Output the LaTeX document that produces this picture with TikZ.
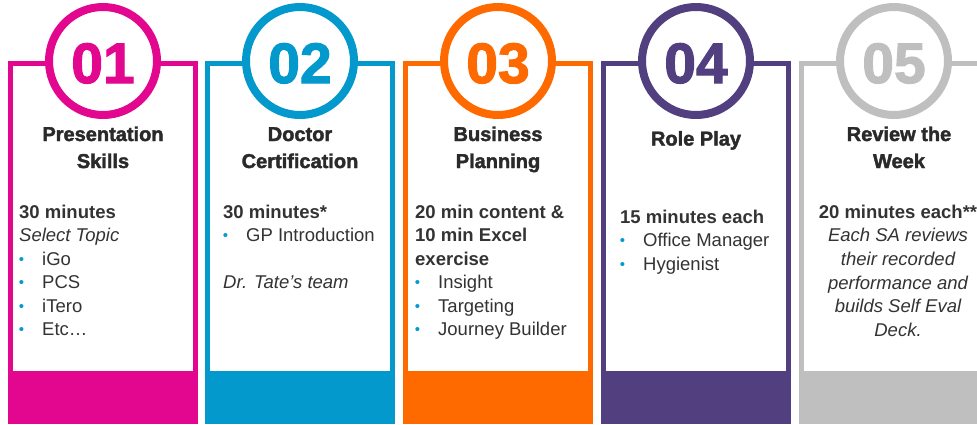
\documentclass[tikz,border=0pt]{standalone}
\usepackage{fontspec}
\setmainfont{Liberation Sans}
\newfontfamily\heavyfont{Liberation Sans}[BoldFeatures={FakeBold=2}]

\definecolor{cMag}{HTML}{E2078E}
\definecolor{cBlue}{HTML}{0399CD}
\definecolor{cOrange}{HTML}{FF6A00}
\definecolor{cPurple}{HTML}{523F80}
\definecolor{cGray}{HTML}{BFBFBF}
\definecolor{bul}{HTML}{0399D2}
\definecolor{ink}{HTML}{333333}
\definecolor{inkdark}{HTML}{2A2A2A}

% a top-aligned text block whose baseline is that of its first line
\newcommand\cardtext[2]{\vtop{\hsize=#1\relax\parindent=0pt\parskip=0pt\relax #2\par}}
% small blue bullet followed by the item indent
\newcommand\blt{\makebox[23pt][l]{\hspace{-0.3pt}\textcolor{bul}{\raisebox{0.6pt}{\fontsize{15}{15}\selectfont\textbullet}}}}

\tikzset{
  card/.style={draw=#1, line width=5pt, fill=white},
  ring/.style={circle, draw=#1, line width=8pt, fill=white, minimum size=108pt, inner sep=0pt},
  numtext/.style={text=#1, inner sep=0pt, anchor=base,
    font=\heavyfont\bfseries\fontsize{57}{57}\selectfont},
  title/.style={text=inkdark, inner sep=0pt, anchor=base,
    font=\heavyfont\bfseries\fontsize{20}{27}\selectfont},
  body/.style={text=ink, inner sep=0pt, anchor=base west,
    font=\fontsize{18.5}{23.5}\selectfont},
  bodyc/.style={text=ink, inner sep=0pt, anchor=base,
    font=\fontsize{18.5}{23.7}\selectfont},
}

\begin{document}
\begin{tikzpicture}[x=1pt, y=-1pt]
\useasboundingbox (0,0) rectangle (977,424);

% five cards: outline, coloured foot band, numbered ring
\foreach \i/\L/\c/\n in {1/8/cMag/01, 2/205/cBlue/02, 3/403/cOrange/03, 4/601/cPurple/04, 5/799/cGray/05} {
  \pgfmathsetmacro\cx{\L+95}
  \draw[card=\c] (\L+2.5,63.5) rectangle (\L+187.5,421.5);
  \fill[\c] (\L,371) rectangle (\L+190,424);
  \node[ring=\c] (ring\i) at (\cx,61) {};
  \node[numtext=\c] (num\i) at (\cx,83) {\n};
}

% titles
\node[title] (title1) at (103,141) {\cardtext{180pt}{\centering Presentation\\Skills}};
\node[title] (title2) at (300,141) {\cardtext{180pt}{\centering Doctor\\Certification}};
\node[title] (title3) at (498,141) {\cardtext{180pt}{\centering Business\\Planning}};
\node[title] (title4) at (696,145.5) {\cardtext{180pt}{\centering Role Play}};
\node[title] (title5) at (899,141) {\cardtext{180pt}{\centering Review the\\Week}};

% card contents
\node[body] (body1) at (19,218) {\cardtext{175pt}{\raggedright
  \textbf{30 minutes}\\
  \textit{Select Topic}\\
  \blt iGo\\
  \blt PCS\\
  \blt iTero\\
  \blt Etc…}};

\node[body] (body2) at (223,218) {\cardtext{175pt}{\raggedright
  \textbf{30 minutes*}\\
  \blt GP Introduction\\
  \mbox{}\\
  \textit{Dr. Tate’s team}}};

\node[body] (body3) at (415,218) {\cardtext{175pt}{\raggedright
  \textbf{20 min content \&}\\
  \textbf{10 min Excel}\\
  \textbf{exercise}\\
  \blt Insight\\
  \blt Targeting\\
  \blt Journey Builder}};

\node[body] (body4) at (620,223) {\cardtext{175pt}{\raggedright
  \textbf{15 minutes each}\\
  \blt Office Manager\\
  \blt Hygienist}};

\node[bodyc] (body5) at (898,218) {\cardtext{190pt}{\centering
  \textbf{20 minutes each**}\\
  \itshape Each SA reviews\\
  their recorded\\
  performance and\\
  builds Self Eval\\
  Deck.}};
\end{tikzpicture}
\end{document}
